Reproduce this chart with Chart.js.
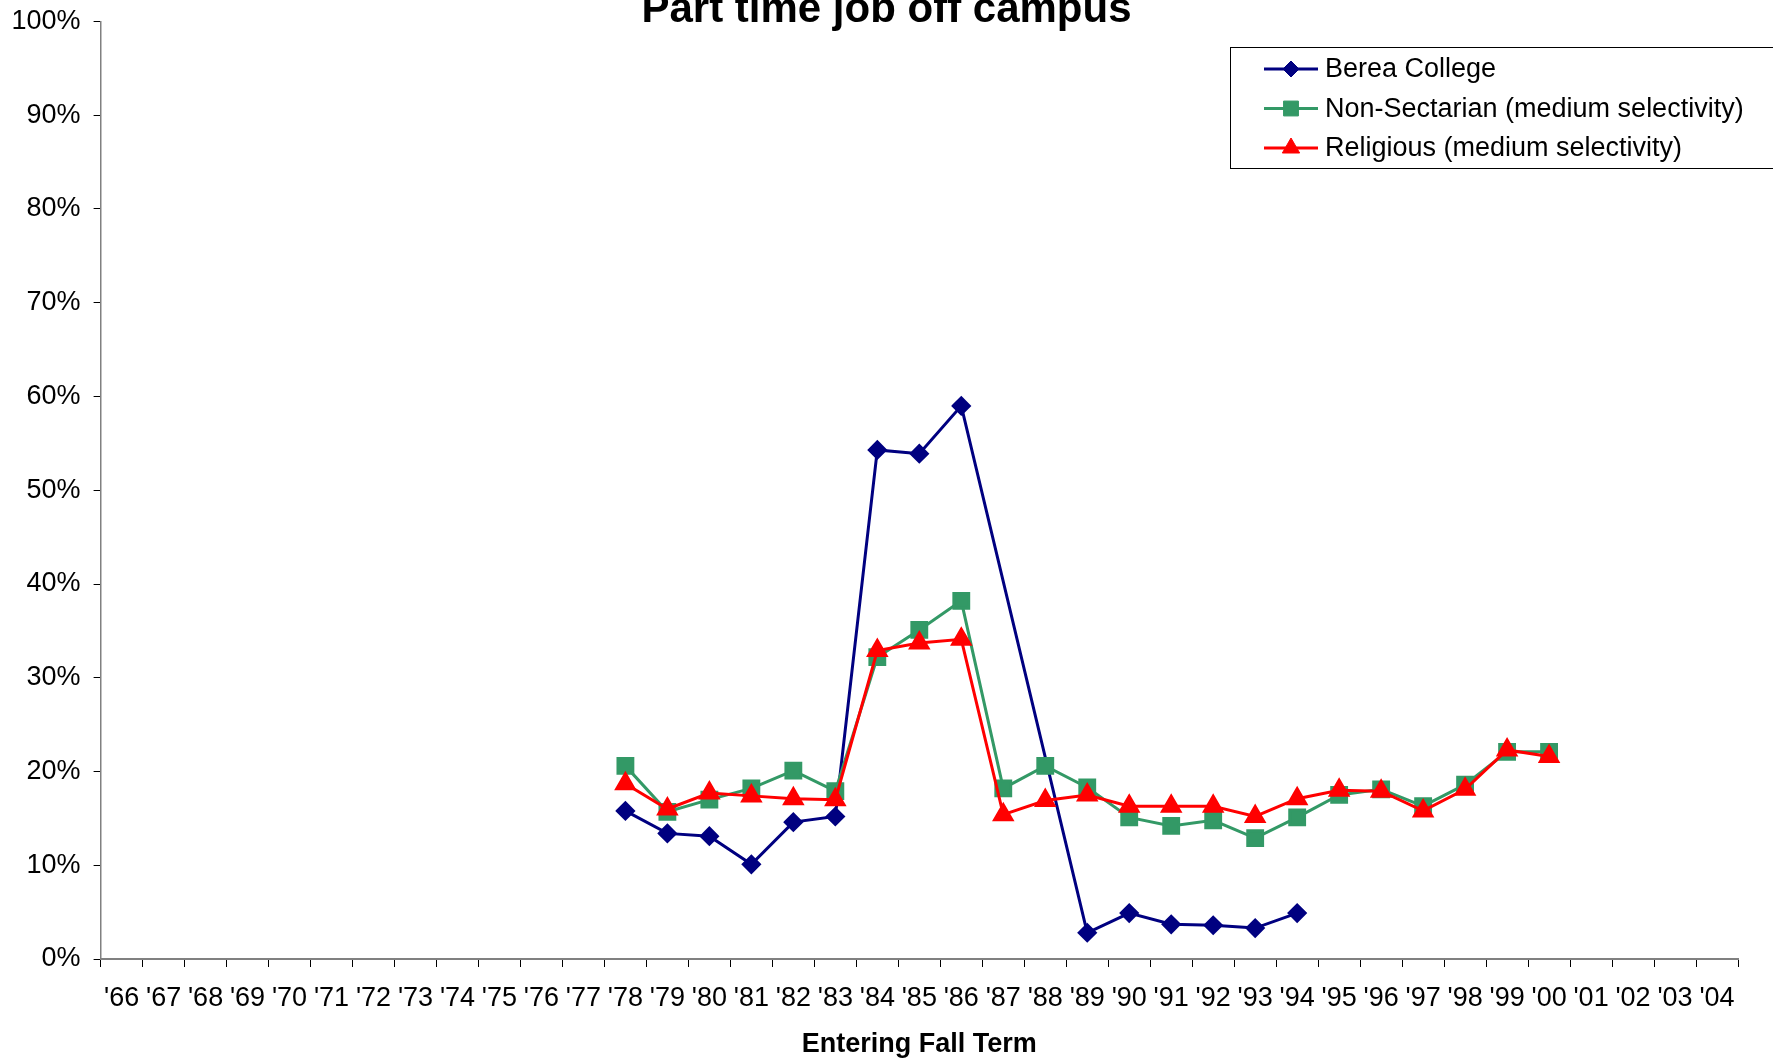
<!DOCTYPE html>
<html>
<head>
<meta charset="utf-8">
<script src="https://cdn.jsdelivr.net/npm/chart.js@4.4.1/dist/chart.umd.min.js"></script>
<style>
  html, body { margin: 0; padding: 0; background: #fff; }
  #wrap { width: 1773px; height: 1058px; }
</style>
</head>
<body>
<div id="wrap"><canvas id="myChart" width="1773" height="1058"></canvas></div>
<script>
/*global Chart*/

const years = ["'66", "'67", "'68", "'69", "'70", "'71", "'72", "'73", "'74", "'75",
    "'76", "'77", "'78", "'79", "'80", "'81", "'82", "'83", "'84", "'85",
    "'86", "'87", "'88", "'89", "'90", "'91", "'92", "'93", "'94", "'95",
    "'96", "'97", "'98", "'99", "'00", "'01", "'02", "'03", "'04"];

const berea = [null, null, null, null, null, null, null, null, null, null, null, null,
    15.8, 13.4, 13.1, 10.1, 14.6, 15.2, 54.3, 53.9, 59.0, null, null,
    2.8, 4.9, 3.7, 3.6, 3.3, 4.9,
    null, null, null, null, null, null, null, null, null, null];

const nonSectarian = [null, null, null, null, null, null, null, null, null, null, null, null,
    20.6, 15.7, 17.0, 18.2, 20.1, 17.9, 32.2, 35.1, 38.2, 18.2, 20.6,
    18.3, 15.1, 14.2, 14.8, 12.9, 15.1, 17.5, 18.1, 16.3, 18.6, 22.1, 22.1,
    null, null, null, null];

const religious = [null, null, null, null, null, null, null, null, null, null, null, null,
    18.7, 16.0, 17.7, 17.4, 17.1, 17.0, 32.9, 33.7, 34.1, 15.4, 16.9,
    17.5, 16.3, 16.3, 16.3, 15.2, 17.1, 18.0, 17.9, 15.8, 18.1, 22.3, 21.6,
    null, null, null, null];

const seriesNames = ['Berea College', 'Non-Sectarian (medium selectivity)', 'Religious (medium selectivity)'];
const chartTitle = 'Part time job off campus';
const xTitle = 'Entering Fall Term';

const FONT = "'Liberation Sans', Arial, sans-serif";
Chart.defaults.color = '#000';
Chart.defaults.font.family = FONT;

const titlePlugin = {
    id: 'topTitle',
    afterDraw(chart) {
        const ctx = chart.ctx;
        ctx.save();
        ctx.fillStyle = '#000';
        ctx.font = 'bold 42px ' + FONT;
        ctx.textAlign = 'center';
        ctx.textBaseline = 'alphabetic';
        ctx.fillText(chartTitle, chart.width / 2, 22);
        ctx.restore();
    }
};

const legendPlugin = {
    id: 'boxLegend',
    afterDraw(chart) {
        const ctx = chart.ctx;
        ctx.save();
        ctx.fillStyle = '#fff';
        ctx.fillRect(1230, 47.5, 600, 121);
        ctx.strokeStyle = '#000';
        ctx.lineWidth = 1;
        ctx.strokeRect(1230.5, 47.5, 600, 121);
        const rows = [69, 108.5, 148];
        chart.data.datasets.forEach((ds, i) => {
            const y = rows[i];
            ctx.strokeStyle = ds.borderColor;
            ctx.lineWidth = ds.borderWidth;
            ctx.beginPath();
            ctx.moveTo(1264, y);
            ctx.lineTo(1318, y);
            ctx.stroke();
            ctx.fillStyle = ds.pointBackgroundColor;
            ctx.strokeStyle = ds.pointBorderColor;
            ctx.lineWidth = 1;
            Chart.helpers.drawPoint(ctx, {
                pointStyle: ds.pointStyle,
                radius: ds.pointRadius,
                rotation: 0,
                borderWidth: 1
            }, 1291, y);
            ctx.fillStyle = '#000';
            ctx.font = '27px ' + FONT;
            ctx.textAlign = 'left';
            ctx.textBaseline = 'middle';
            ctx.fillText(ds.label, 1325, y + 1);
        });
        ctx.restore();
    }
};

const data = {
    labels: years,
    datasets: [
        {
            label: seriesNames[0],
            data: berea,
            borderColor: '#000080',
            backgroundColor: '#000080',
            pointBackgroundColor: '#000080',
            pointBorderColor: '#000080',
            pointStyle: 'rectRot',
            pointRadius: 8,
            borderWidth: 3,
            spanGaps: true,
            order: 3
        },
        {
            label: seriesNames[1],
            data: nonSectarian,
            borderColor: '#339966',
            backgroundColor: '#339966',
            pointBackgroundColor: '#339966',
            pointBorderColor: '#339966',
            pointStyle: 'rect',
            pointRadius: 10.5,
            borderWidth: 3,
            order: 2
        },
        {
            label: seriesNames[2],
            data: religious,
            borderColor: '#FF0000',
            backgroundColor: '#FF0000',
            pointBackgroundColor: '#FF0000',
            pointBorderColor: '#FF0000',
            pointStyle: 'triangle',
            pointRadius: 10,
            borderWidth: 3,
            order: 1
        }
    ]
};

const config = {
    type: 'line',
    data: data,
    options: {
        responsive: false,
        animation: false,
        devicePixelRatio: 1,
        layout: {
            padding: { top: 21.5, right: 35, left: 0, bottom: 0 }
        },
        elements: {
            line: { tension: 0 },
            point: { borderWidth: 1, hoverRadius: 8 }
        },
        plugins: {
            legend: { display: false },
            title: { display: false },
            tooltip: { enabled: false }
        },
        scales: {
            x: {
                offset: true,
                grid: {
                    offset: true,
                    drawOnChartArea: false,
                    drawTicks: true,
                    tickLength: 8,
                    color: '#000'
                },
                border: { color: '#808080', width: 2 },
                ticks: {
                    autoSkip: false,
                    maxRotation: 0,
                    minRotation: 0,
                    padding: 15,
                    font: { size: 27 }
                },
                title: {
                    display: true,
                    text: xTitle,
                    font: { size: 27, weight: 'bold', lineHeight: 1.0 },
                    padding: 0
                },
                afterFit(scale) {
                    scale.height = 99;
                    scale.paddingLeft = 0;
                    scale.paddingRight = 0;
                }
            },
            y: {
                min: 0,
                max: 100,
                grid: {
                    drawOnChartArea: false,
                    drawTicks: true,
                    tickLength: 7,
                    color: '#000'
                },
                border: { color: '#808080', width: 1.5 },
                ticks: {
                    stepSize: 10,
                    padding: 13,
                    font: { size: 27 },
                    callback: value => value + '%'
                },
                afterFit(scale) {
                    scale.width = 100.6;
                    scale.paddingTop = 0;
                    scale.paddingBottom = 0;
                }
            }
        }
    },
    plugins: [titlePlugin, legendPlugin]
};

/*eslint-disable no-unused-vars*/
const graphe = new Chart(document.getElementById('myChart'), config);
</script>
</body>
</html>
